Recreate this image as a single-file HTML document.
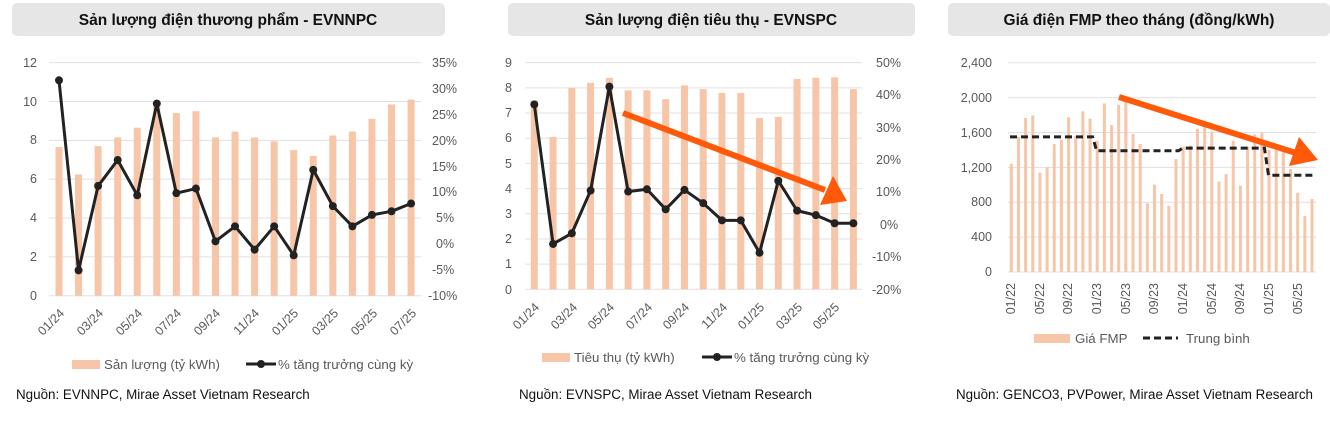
<!DOCTYPE html>
<html><head><meta charset="utf-8">
<style>
body{margin:0;background:#fff;width:1330px;height:418px;overflow:hidden;font-family:"Liberation Sans","DejaVu Sans",sans-serif;}
svg text{font-family:"Liberation Sans","DejaVu Sans",sans-serif;}
.t{font-size:12.5px;fill:#595959}
.ttl{font-size:15.5px;font-weight:bold;fill:#111}
.src{font-size:13.4px;fill:#111}
.lg{font-size:13.3px;fill:#595959}
</style></head><body>
<svg id="s" width="1330" height="418" xmlns="http://www.w3.org/2000/svg">
<rect x="12" y="3" width="433" height="33" rx="5" fill="#e6e6e6"/>
<rect x="508" y="3" width="407" height="33" rx="5" fill="#e6e6e6"/>
<rect x="948" y="3" width="382" height="33" rx="5" fill="#e6e6e6"/>
<text class="ttl" x="228" y="25" text-anchor="middle">Sản lượng điện thương phẩm - EVNNPC</text>
<text class="ttl" x="711" y="25" text-anchor="middle">Sản lượng điện tiêu thụ - EVNSPC</text>
<text class="ttl" x="1139" y="25" text-anchor="middle">Giá điện FMP theo tháng (đồng/kWh)</text>
<g id="g"></g>
<!-- chart1 axis labels -->
<g class="t" text-anchor="end">
<text x="37" y="67">12</text><text x="37" y="106">10</text><text x="37" y="144">8</text><text x="37" y="183">6</text><text x="37" y="222">4</text><text x="37" y="261">2</text><text x="37" y="300">0</text>
</g>
<g class="t">
<text x="432" y="67">35%</text><text x="432" y="93">30%</text><text x="432" y="119">25%</text><text x="432" y="145">20%</text><text x="432" y="171">15%</text><text x="432" y="196">10%</text><text x="436" y="222">5%</text><text x="436" y="248">0%</text><text x="432" y="274">-5%</text><text x="428" y="300">-10%</text>
</g>
<g class="t" text-anchor="end">
<text transform="translate(65,314) rotate(-45)">01/24</text>
<text transform="translate(104,314) rotate(-45)">03/24</text>
<text transform="translate(143,314) rotate(-45)">05/24</text>
<text transform="translate(182,314) rotate(-45)">07/24</text>
<text transform="translate(221,314) rotate(-45)">09/24</text>
<text transform="translate(260,314) rotate(-45)">11/24</text>
<text transform="translate(299,314) rotate(-45)">01/25</text>
<text transform="translate(339,314) rotate(-45)">03/25</text>
<text transform="translate(378,314) rotate(-45)">05/25</text>
<text transform="translate(417,314) rotate(-45)">07/25</text>
</g>
<rect x="72" y="360" width="28" height="9" fill="#f7c5a8"/>
<text class="lg" x="104" y="369">Sản lượng (tỷ kWh)</text>
<line x1="246" y1="364" x2="276" y2="364" stroke="#222" stroke-width="3"/><circle cx="261" cy="364" r="4" fill="#222"/>
<text class="lg" x="278" y="369">% tăng trưởng cùng kỳ</text>
<text class="src" x="16" y="399">Nguồn: EVNNPC, Mirae Asset Vietnam Research</text>

<!-- chart2 -->
<g class="t" text-anchor="end">
<text x="512" y="67">9</text><text x="512" y="92">8</text><text x="512" y="117">7</text><text x="512" y="142">6</text><text x="512" y="168">5</text><text x="512" y="193">4</text><text x="512" y="218">3</text><text x="512" y="243">2</text><text x="512" y="268">1</text><text x="512" y="294">0</text>
</g>
<g class="t">
<text x="876" y="67">50%</text><text x="876" y="99">40%</text><text x="876" y="132">30%</text><text x="876" y="164">20%</text><text x="876" y="196">10%</text><text x="880" y="229">0%</text><text x="872" y="261">-10%</text><text x="872" y="294">-20%</text>
</g>
<g class="t" text-anchor="end">
<text transform="translate(540,308) rotate(-45)">01/24</text>
<text transform="translate(578,308) rotate(-45)">03/24</text>
<text transform="translate(615,308) rotate(-45)">05/24</text>
<text transform="translate(653,308) rotate(-45)">07/24</text>
<text transform="translate(690,308) rotate(-45)">09/24</text>
<text transform="translate(728,308) rotate(-45)">11/24</text>
<text transform="translate(765,308) rotate(-45)">01/25</text>
<text transform="translate(803,308) rotate(-45)">03/25</text>
<text transform="translate(840,308) rotate(-45)">05/25</text>
</g>
<rect x="542" y="353" width="28" height="9" fill="#f7c5a8"/>
<text class="lg" x="574" y="362">Tiêu thụ (tỷ kWh)</text>
<line x1="702" y1="357" x2="732" y2="357" stroke="#222" stroke-width="3"/><circle cx="717" cy="357" r="4" fill="#222"/>
<text class="lg" x="734" y="362">% tăng trưởng cùng kỳ</text>
<text class="src" x="519" y="399">Nguồn: EVNSPC, Mirae Asset Vietnam Research</text>

<!-- chart3 -->
<g class="t" text-anchor="end">
<text x="992" y="67">2,400</text><text x="992" y="102">2,000</text><text x="992" y="137">1,600</text><text x="992" y="172">1,200</text><text x="992" y="206">800</text><text x="992" y="241">400</text><text x="992" y="276">0</text>
</g>
<g class="t" text-anchor="end">
<text transform="translate(1015,283) rotate(-90)">01/22</text>
<text transform="translate(1044,283) rotate(-90)">05/22</text>
<text transform="translate(1072,283) rotate(-90)">09/22</text>
<text transform="translate(1101,283) rotate(-90)">01/23</text>
<text transform="translate(1130,283) rotate(-90)">05/23</text>
<text transform="translate(1158,283) rotate(-90)">09/23</text>
<text transform="translate(1187,283) rotate(-90)">01/24</text>
<text transform="translate(1216,283) rotate(-90)">05/24</text>
<text transform="translate(1244,283) rotate(-90)">09/24</text>
<text transform="translate(1273,283) rotate(-90)">01/25</text>
<text transform="translate(1302,283) rotate(-90)">05/25</text>
</g>
<rect x="1034" y="334" width="36" height="9" fill="#f7c5a8"/>
<text class="lg" x="1075" y="343">Giá FMP</text>
<line x1="1143" y1="338" x2="1178" y2="338" stroke="#222" stroke-width="3" stroke-dasharray="7,4"/>
<text class="lg" x="1186" y="343">Trung bình</text>
<text class="src" x="956" y="399">Nguồn: GENCO3, PVPower, Mirae Asset Vietnam Research</text>
</svg>
<script>
var g=document.getElementById('g'),NS='http://www.w3.org/2000/svg';
function el(t,a){var e=document.createElementNS(NS,t);for(var k in a)e.setAttribute(k,a[k]);g.appendChild(e);return e;}
// chart1
for(var i=0;i<=6;i++){var y=295.7-i*2*19.42;el('line',{x1:49,x2:421,y1:y,y2:y,stroke:'#e0e0e0'});}
var b1=[7.65,6.25,7.7,8.15,8.65,9.8,9.4,9.5,8.15,8.45,8.15,7.95,7.5,7.2,8.25,8.45,9.1,9.85,10.1];
var l1=[31.6,-5.1,11.2,16.2,9.4,27.1,9.8,10.7,0.5,3.4,-1.1,3.4,-2.2,14.3,7.3,3.4,5.6,6.3,7.8];
var p='';b1.forEach(function(v,i){var x=59+i*19.56;el('rect',{x:x-3.5,y:295.7-v*19.42,width:7,height:v*19.42,fill:'#f7c5a8'});});
l1.forEach(function(v,i){var x=59+i*19.56,y=62.7+(35-v)*5.178;p+=(i?'L':'M')+x+','+y;});
el('path',{d:p,fill:'none',stroke:'#222','stroke-width':3,'stroke-linejoin':'round'});
l1.forEach(function(v,i){el('circle',{cx:59+i*19.56,cy:62.7+(35-v)*5.178,r:4,fill:'#222'});});
// chart2
for(var i=0;i<=9;i++){var y=289.3-i*25.18;el('line',{x1:525,x2:862,y1:y,y2:y,stroke:'#e0e0e0'});}
var b2=[7.5,6.05,8.0,8.2,8.4,7.9,7.9,7.55,8.1,7.95,7.8,7.8,6.8,6.85,8.35,8.4,8.42,7.95];
var l2=[37.1,-6.0,-2.7,10.5,42.6,10.2,10.9,4.7,10.7,6.6,1.3,1.3,-8.7,13.5,4.3,2.9,0.4,0.4];
b2.forEach(function(v,i){var x=534.3+i*18.77;el('rect',{x:x-3.5,y:289.3-v*25.18,width:7,height:v*25.18,fill:'#f7c5a8'});});
p='';l2.forEach(function(v,i){var x=534.3+i*18.77,y=62.7+(50-v)*3.237;p+=(i?'L':'M')+x+','+y;});
el('path',{d:p,fill:'none',stroke:'#222','stroke-width':3,'stroke-linejoin':'round'});
l2.forEach(function(v,i){el('circle',{cx:534.3+i*18.77,cy:62.7+(50-v)*3.237,r:4,fill:'#222'});});
el('line',{x1:623,y1:113,x2:825,y2:190,stroke:'#ff5a0a','stroke-width':6});
el('polygon',{points:'847,201 820,205 833,176',fill:'#ff5a0a'});
// chart3
for(var i=0;i<=6;i++){var y=272-i*34.88;el('line',{x1:1008,x2:1316,y1:y,y2:y,stroke:'#e0e0e0'});}
var b3=[1238,1550,1765,1795,1139,1200,1467,1517,1773,1560,1842,1758,1505,1933,1685,1918,1972,1582,1467,787,1001,894,760,1295,1437,1450,1640,1674,1609,1036,1123,1506,990,1437,1578,1594,1400,1400,1400,1180,910,642,837];
b3.forEach(function(v,i){var x=1011.3+i*7.16,h=v*209.3/2400;el('rect',{x:x-1.5,y:272-h,width:3,height:h,fill:'#f7c5a8'});});
function Y(v){return 272-v*209.3/2400;}
var x0=1010,x12=1011.3+11.5*7.16,x24=1011.3+23.5*7.16,x36=1011.3+35.5*7.16;
p='M'+x0+','+Y(1550)+'L'+(x12-1)+','+Y(1550)+'L'+(x12+3)+','+Y(1390)+'L'+(x24-1)+','+Y(1390)+'L'+(x24+3)+','+Y(1420)+'L'+(x36-1)+','+Y(1420)+'L'+(x36+3)+','+Y(1110)+'L1316,'+Y(1110);
el('path',{d:p,fill:'none',stroke:'#222','stroke-width':3,'stroke-dasharray':'7,4'});
el('line',{x1:1119,y1:97,x2:1296,y2:153,stroke:'#ff5a0a','stroke-width':6});
el('polygon',{points:'1318,160 1289,166 1299,137',fill:'#ff5a0a'});
</script>
</body></html>
